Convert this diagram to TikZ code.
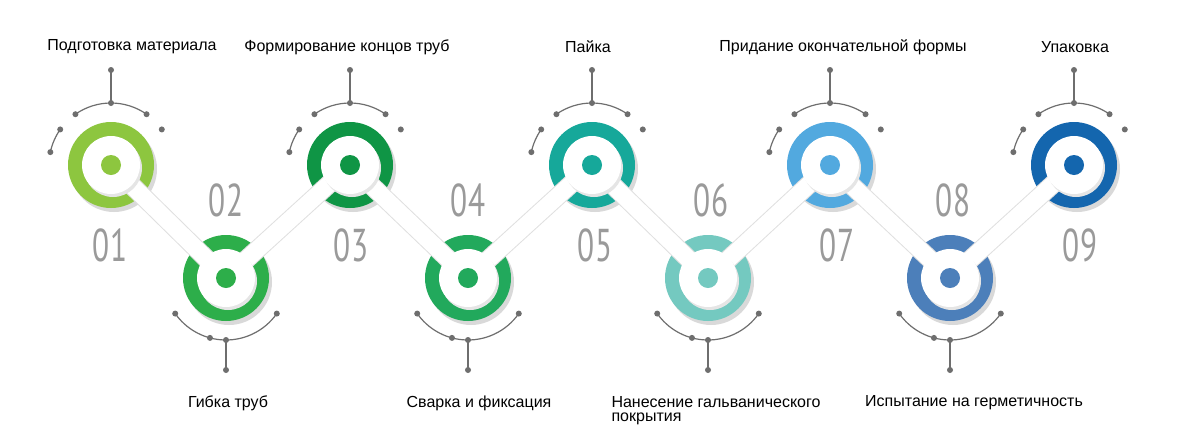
\documentclass[tikz,border=0pt]{standalone}
\usepackage{fontspec}
\setmainfont{Liberation Sans}
\newfontfamily\numfont{PT Sans}
\definecolor{c1}{HTML}{8DC63F}\definecolor{c2}{HTML}{2DAE4A}\definecolor{c3}{HTML}{0F9545}
\definecolor{c4}{HTML}{22A95C}\definecolor{c5}{HTML}{16A89A}\definecolor{c6}{HTML}{74C9C0}
\definecolor{c7}{HTML}{52A9DF}\definecolor{c8}{HTML}{4C7FBA}\definecolor{c9}{HTML}{1466AE}
\definecolor{dec}{HTML}{6E6E6E}\definecolor{numc}{HTML}{9A9A9A}
\begin{document}
\begin{tikzpicture}[x=1pt,y=-1pt,
  band/.style={line width=17pt,white},
  bandshadow/.style={line width=19pt,black!12},
  decl/.style={dec,line width=1.2pt},
  dotn/.style={circle,fill=dec,inner sep=0pt,minimum size=6pt},
  lbl/.style={font=\fontsize{16}{17}\selectfont,black},
  num/.style={font=\numfont\fontsize{46}{46}\selectfont,numc,xscale=0.68}]
\useasboundingbox[fill=white] (0,0) rectangle (1200,440);
\foreach \i/\x/\y in {1/111/165,2/226/278,3/350/165,4/468/278,5/592/165,6/708/278,7/830/165,8/950/278,9/1074/165}
  \coordinate (p\i) at (\x,\y);
% decorations top
\foreach \i in {1,3,5,7,9}{
  \draw[decl] (p\i) ++(0,-62) -- ++(0,-33) node[dotn]{};
  \draw[decl] (p\i) ++(-55:62) arc[start angle=-55,end angle=-125,radius=62];
  \fill[dec] (p\i) ++(0,-62) circle(3pt);
  \fill[dec] (p\i) ++(-55:62) circle(3pt);
  \fill[dec] (p\i) ++(-125:62) circle(3pt);
  \draw[decl] (p\i) ++(-145:62) arc[start angle=-145,end angle=-168,radius=62];
  \fill[dec] (p\i) ++(-145:62) circle(3pt);
  \fill[dec] (p\i) ++(-168:62) circle(3pt);
  \fill[dec] (p\i) ++(-35:62) circle(3pt);
}
% decorations bottom
\foreach \i in {2,4,6,8}{
  \draw[decl] (p\i) ++(0,62) -- ++(0,30) node[dotn]{};
  \draw[decl] (p\i) ++(35:62) arc[start angle=35,end angle=145,radius=62];
  \fill[dec] (p\i) ++(0,62) circle(3pt);
  \fill[dec] (p\i) ++(35:62) circle(3pt);
  \fill[dec] (p\i) ++(145:62) circle(3pt);
  \fill[dec] (p\i) ++(105:62) circle(3pt);
}
% rings
\foreach \i in {1,...,9}{
  \fill[black!15] (p\i) ++(3,4) circle(43pt);
  \fill[c\i] (p\i) circle(43pt);
}
% connectors
\draw[bandshadow] (p1) -- (p2) -- (p3) -- (p4) -- (p5) -- (p6) -- (p7) -- (p8) -- (p9);
\draw[band] (p1) -- (p2) -- (p3) -- (p4) -- (p5) -- (p6) -- (p7) -- (p8) -- (p9);
\foreach \i in {1,...,9}{
  \fill[black!10] (p\i) ++(2,3) circle(29pt);
  \fill[white] (p\i) circle(29pt);
  \fill[c\i] (p\i) circle(10pt);
}
% numbers
\foreach \i/\x/\y in {1/110/245,3/351/245,5/595/245,7/837/245,9/1080/245,2/226/200,4/468/200,6/711/200,8/953/200}
  \node[num] (n\i) at (\x,\y) {0\i};
% labels
\node[lbl] (l1) at (132,47) {Подготовка материала};
\node[lbl] (l3) at (347,47) {Формирование концов труб};
\node[lbl] (l5) at (588,47) {Пайка};
\node[lbl] (l7) at (843,47) {Придание окончательной формы};
\node[lbl] (l9) at (1075,47) {Упаковка};
\node[lbl] (l2) at (228,403) {Гибка труб};
\node[lbl] (l4) at (479,403) {Сварка и фиксация};
\node[lbl,align=left,anchor=north west] (l6) at (608,393) {Нанесение гальванического\\[-3pt]покрытия};
\node[lbl] (l8) at (974,403) {Испытание на герметичность};
\end{tikzpicture}
\end{document}
